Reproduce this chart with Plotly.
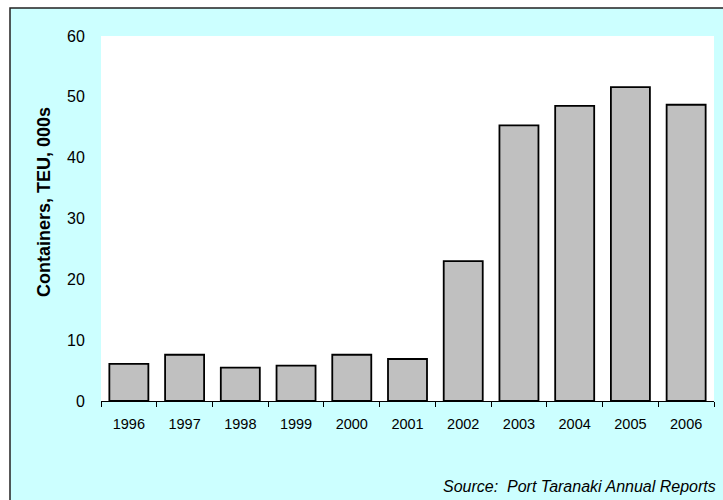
import plotly.graph_objects as go

# Container throughput, Port Taranaki
years = ["1996", "1997", "1998", "1999", "2000", "2001",
         "2002", "2003", "2004", "2005", "2006"]
teu_thousands = [6.1, 7.6, 5.5, 5.8, 7.6, 6.9, 23.0, 45.3, 48.5, 51.6, 48.7]
y_ticks = [0, 10, 20, 30, 40, 50, 60]

W, H = 723, 500
L, R, T, B = 101, 9, 36, 99
pw, ph = W - L - R, H - T - B


def px_x(x):
    return (x - L) / pw


def px_y(y):
    return (H - B - y) / ph


fig = go.Figure(
    go.Bar(
        x=years,
        y=teu_thousands,
        marker=dict(color="#C0C0C0", line=dict(color="#000000", width=1.8)),
        hoverinfo="x+y",
    )
)

shapes = [
    # white margin outside the framed panel
    dict(type="rect", xref="paper", yref="paper",
         x0=px_x(-5), x1=px_x(730), y0=px_y(-5), y1=px_y(8),
         fillcolor="white", line=dict(width=0), layer="below"),
    dict(type="rect", xref="paper", yref="paper",
         x0=px_x(-5), x1=px_x(10), y0=px_y(-5), y1=px_y(510),
         fillcolor="white", line=dict(width=0), layer="below"),
    # panel frame
    dict(type="rect", xref="paper", yref="paper",
         x0=px_x(10), x1=px_x(740), y0=px_y(8), y1=px_y(520),
         fillcolor="rgba(0,0,0,0)", line=dict(color="#222222", width=1.5),
         layer="above"),
]

fig.update_layout(
    width=W, height=H,
    margin=dict(l=L, r=R, t=T, b=B),
    paper_bgcolor="#CCFFFF",
    plot_bgcolor="#FFFFFF",
    bargap=0.3,
    showlegend=False,
    font=dict(family="Arial, Liberation Sans, sans-serif", color="#000000", size=14),
    shapes=shapes,
    annotations=[
        dict(text="<b>Containers, TEU, 000s</b>",
             xref="paper", yref="paper", x=px_x(44), y=px_y(202),
             xanchor="center", yanchor="middle", textangle=-90, showarrow=False,
             font=dict(size=18, color="#000000")),
        dict(text="<i>Source:  Port Taranaki Annual Reports</i>",
             xref="paper", yref="paper", x=px_x(718), y=px_y(486),
             xanchor="right", yanchor="middle", showarrow=False,
             font=dict(size=16, color="#000000")),
    ],
)

fig.update_xaxes(
    type="category",
    showline=True, linecolor="#000000", linewidth=1,
    ticks="outside", tickson="boundaries", ticklen=5, tickcolor="#000000",
    ticklabelstandoff=10,
    tickfont=dict(size=14.5),
    showgrid=False,
)

fig.update_yaxes(
    range=[0, 60],
    tickvals=y_ticks,
    showline=False, showgrid=False, zeroline=False,
    ticks="outside", ticklen=12, tickcolor="rgba(0,0,0,0)",
    tickfont=dict(size=16),
)

fig.write_html("out.html")
